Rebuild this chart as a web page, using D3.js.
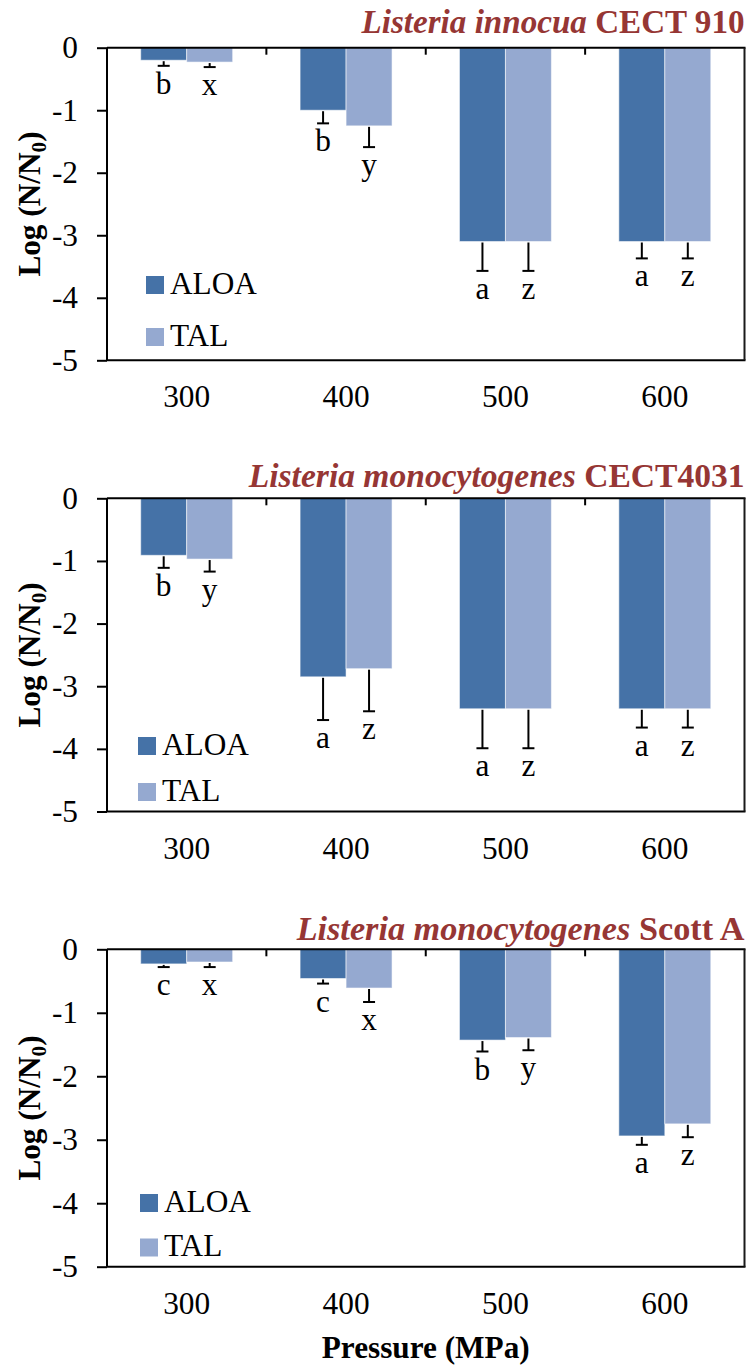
<!DOCTYPE html>
<html>
<head>
<meta charset="utf-8">
<script src="https://cdn.jsdelivr.net/npm/d3@7"></script>
<style>
  html, body { margin: 0; padding: 0; background: #fff; }
  svg { display: block; }
  svg text { font-family: "Liberation Serif", "DejaVu Serif", serif; }
</style>
</head>
<body>
<svg id="chart" width="746" height="1368"></svg>
<script>
// Pressure levels (MPa) and culture media
const pressures = ["300", "400", "500", "600"];
const media = ["ALOA", "TAL"];
const yTicks = [0, -1, -2, -3, -4, -5];

// Listeria innocua CECT 910
const innocuaALOA = [-0.20, -1.00, -3.10, -3.10];
const innocuaALOAErr = [0.09, 0.21, 0.47, 0.27];
const innocuaTAL = [-0.23, -1.25, -3.10, -3.10];
const innocuaTALErr = [0.08, 0.34, 0.47, 0.27];
const innocuaALOALetters = ["b", "b", "a", "a"];
const innocuaTALLetters = ["x", "y", "z", "z"];

// Listeria monocytogenes CECT4031
const cect4031ALOA = [-0.91, -2.85, -3.36, -3.36];
const cect4031ALOAErr = [0.20, 0.69, 0.63, 0.30];
const cect4031TAL = [-0.97, -2.72, -3.36, -3.36];
const cect4031TALErr = [0.20, 0.68, 0.63, 0.30];
const cect4031ALOALetters = ["b", "a", "a", "a"];
const cect4031TALLetters = ["y", "z", "z", "z"];

// Listeria monocytogenes Scott A
const scottALOA = [-0.23, -0.46, -1.43, -2.94];
const scottALOAErr = [0.05, 0.08, 0.18, 0.14];
const scottTAL = [-0.20, -0.61, -1.39, -2.75];
const scottTALErr = [0.08, 0.22, 0.20, 0.21];
const scottALOALetters = ["c", "c", "b", "a"];
const scottTALLetters = ["x", "x", "y", "z"];

const colors = { ALOA: "#4572A7", TAL: "#95A9D0" };
const titleColor = "#963634";

const panels = [
  {
    species: "Listeria innocua", strain: " CECT 910",
    series: {
      ALOA: { v: innocuaALOA, e: innocuaALOAErr, l: innocuaALOALetters },
      TAL:  { v: innocuaTAL,  e: innocuaTALErr,  l: innocuaTALLetters }
    },
    top: 47.7, bottom: 360.3, titleDy: -14.7, titleWidth: 383,
    legend: { x: 146, y: 276, gap: 52 }
  },
  {
    species: "Listeria monocytogenes", strain: " CECT4031",
    series: {
      ALOA: { v: cect4031ALOA, e: cect4031ALOAErr, l: cect4031ALOALetters },
      TAL:  { v: cect4031TAL,  e: cect4031TALErr,  l: cect4031TALLetters }
    },
    top: 498.3, bottom: 811.5, titleDy: -11.6, titleWidth: 496,
    legend: { x: 138, y: 737, gap: 46 }
  },
  {
    species: "Listeria monocytogenes", strain: " Scott A",
    series: {
      ALOA: { v: scottALOA, e: scottALOAErr, l: scottALOALetters },
      TAL:  { v: scottTAL,  e: scottTALErr,  l: scottTALLetters }
    },
    top: 949.3, bottom: 1266.7, titleDy: -9.3, titleWidth: 448,
    legend: { x: 140, y: 1194, gap: 44.5 }
  }
];

const svg = d3.select("#chart");
const left = 107, right = 744.5;
const gapRatio = 0.423;

// Size a font so that a sample string spans the wanted width
function fitSize(build, width) {
  const t = svg.append("text").attr("font-size", 100);
  build(t);
  const w = t.node().getComputedTextLength();
  t.remove();
  return 100 * width / w;
}
const fs = Math.min(33, fitSize(t => t.text("ALOA"), 87));
const fsBold = Math.min(33, fitSize(t => t.attr("font-weight", "bold").text("Pressure (MPa)"), 208));

const x0 = d3.scaleBand().domain(pressures).range([left, right])
  .paddingInner(gapRatio).paddingOuter(gapRatio / 2);
const x1 = d3.scaleBand().domain(media).range([0, x0.bandwidth()]);

panels.forEach(p => {
  const g = svg.append("g");
  const y = d3.scaleLinear().domain([0, -5]).range([p.top, p.bottom]);

  // bars
  media.forEach(m => {
    const s = p.series[m];
    const rows = pressures.map((c, i) => ({ c, v: s.v[i], e: s.e[i], l: s.l[i] }));
    const cx = d => x0(d.c) + x1(m) + x1.bandwidth() / 2;

    g.selectAll(null).data(rows).enter().append("rect")
      .attr("x", d => x0(d.c) + x1(m))
      .attr("y", y(0))
      .attr("width", x1.bandwidth())
      .attr("height", d => y(d.v) - y(0))
      .attr("fill", colors[m])
      .attr("stroke", "#ffffff")
      .attr("stroke-opacity", 0.55)
      .attr("stroke-width", 1);

    // one-sided error bars (minus direction)
    const eg = g.selectAll(null).data(rows).enter().append("g")
      .attr("stroke", "#000").attr("stroke-width", 2);
    eg.append("line")
      .attr("x1", cx).attr("x2", cx)
      .attr("y1", d => y(d.v) + 1)
      .attr("y2", d => y(d.v - d.e));
    eg.append("line")
      .attr("x1", d => cx(d) - 6).attr("x2", d => cx(d) + 6)
      .attr("y1", d => y(d.v - d.e))
      .attr("y2", d => y(d.v - d.e));

    // significance letters
    g.selectAll(null).data(rows).enter().append("text")
      .attr("x", cx)
      .attr("y", d => y(d.v - d.e) + 28)
      .attr("text-anchor", "middle")
      .attr("font-size", fs)
      .attr("fill", "#000")
      .text(d => d.l);
  });

  // y axis with outward ticks
  const yAxis = d3.axisLeft(y).tickValues(yTicks).tickSize(10).tickPadding(19)
    .tickFormat(d => String(d));
  const ya = g.append("g").attr("transform", `translate(${left},0)`).call(yAxis);
  ya.attr("font-family", null);
  ya.select(".domain").attr("stroke", "#000").attr("stroke-width", 2)
    .attr("d", `M0,${y(0)}V${y(-5)}`);
  ya.selectAll(".tick line").attr("stroke", "#000").attr("stroke-width", 2);
  ya.selectAll(".tick text").attr("font-size", fs).attr("fill", "#000");

  // frame: category axis at 0, bottom and right border
  g.append("line").attr("x1", left).attr("x2", right + 1).attr("y1", y(0)).attr("y2", y(0))
    .attr("stroke", "#000").attr("stroke-width", 2);
  g.append("line").attr("x1", left).attr("x2", right + 1).attr("y1", y(-5)).attr("y2", y(-5))
    .attr("stroke", "#000").attr("stroke-width", 2);
  g.append("line").attr("x1", right).attr("x2", right).attr("y1", y(0)).attr("y2", y(-5))
    .attr("stroke", "#1a1a1a").attr("stroke-width", 2);

  // tick marks between categories on the zero axis
  const bounds = pressures.slice(1).map(c => x0(c) - x0.step() * gapRatio / 2);
  g.selectAll(null).data(bounds).enter().append("line")
    .attr("x1", d => d).attr("x2", d => d)
    .attr("y1", y(0)).attr("y2", y(0) + 7)
    .attr("stroke", "#000").attr("stroke-width", 2);

  // category labels under the plot
  const xa = g.append("g").attr("transform", `translate(0,${y(-5)})`)
    .call(d3.axisBottom(x0).tickSize(0).tickPadding(0));
  xa.attr("font-family", null);
  xa.select(".domain").remove();
  xa.selectAll(".tick text").attr("font-size", fs)
    .attr("fill", "#000").attr("dy", null).attr("y", 47);

  // y axis title
  const yt = g.append("text")
    .attr("transform", `translate(40,${(y(0) + y(-5)) / 2}) rotate(-90)`)
    .attr("text-anchor", "middle")
    .attr("font-size", fsBold).attr("font-weight", "bold").attr("fill", "#000");
  yt.append("tspan").text("Log (N/N");
  yt.append("tspan").attr("font-size", fsBold * 0.68).attr("dy", 6).text("0");
  yt.append("tspan").attr("dy", -6).text(")");

  // panel title
  const buildTitle = t => {
    t.attr("font-weight", "bold");
    t.append("tspan").attr("font-style", "italic").text(p.species);
    t.append("tspan").text(p.strain);
  };
  const tfs = Math.min(36, fitSize(buildTitle, p.titleWidth));
  const t = g.append("text")
    .attr("x", right).attr("y", y(0) + p.titleDy)
    .attr("text-anchor", "end")
    .attr("font-size", tfs).attr("fill", titleColor);
  buildTitle(t);

  // legend
  media.forEach((m, i) => {
    const ly = p.legend.y + i * p.legend.gap;
    g.append("rect").attr("x", p.legend.x).attr("y", ly)
      .attr("width", 18).attr("height", 18).attr("fill", colors[m]);
    g.append("text").attr("x", p.legend.x + 24).attr("y", ly + 17.5)
      .attr("font-size", fs).attr("fill", "#000").text(m);
  });
});

// shared x axis title
svg.append("text")
  .attr("x", (left + right) / 2).attr("y", 1358)
  .attr("text-anchor", "middle")
  .attr("font-size", fsBold).attr("font-weight", "bold").attr("fill", "#000")
  .text("Pressure (MPa)");
</script>
</body>
</html>
